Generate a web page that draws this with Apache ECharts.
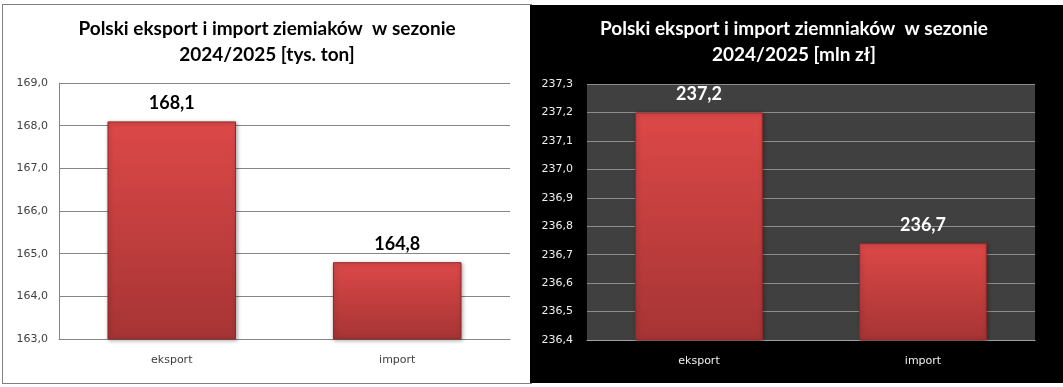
<!DOCTYPE html>
<html>
<head>
<meta charset="utf-8">
<script src="https://cdn.jsdelivr.net/npm/echarts@6/dist/echarts.min.js"></script>
<style>
  html, body { margin: 0; padding: 0; background: #ffffff; width: 1063px; height: 387px; overflow: hidden; }
  #left { position: absolute; left: 2px; top: 4px; width: 530px; height: 380px; box-sizing: border-box; border: 1px solid #808080; background: #ffffff; }
  #right { position: absolute; left: 530px; top: 5px; width: 533px; height: 378px; background: #000000; }
</style>
</head>
<body>
<div id="left"></div>
<div id="right"></div>
<script>
const categories = ['eksport', 'import'];
const volumeValues = [168.1, 164.8];          // tys. ton
const moneyValues = [237.2, 236.74];          // mln zł
const volumeAxis = { min: 163, max: 169, interval: 1 };
const moneyAxis = { min: 236.4, max: 237.3, interval: 0.1 };
const titleVolume = 'Polski eksport i import ziemiaków  w sezonie\n2024/2025 [tys. ton]';
const titleMoney = 'Polski eksport i import ziemniaków  w sezonie\n2024/2025 [mln zł]';

const fmt = v => Number(v).toFixed(1).replace('.', ',');

const barColor = {
  type: 'linear', x: 0, y: 0, x2: 0, y2: 1,
  colorStops: [
    { offset: 0, color: '#dd4848' },
    { offset: 1, color: '#a63434' }
  ]
};

function makeOption(title, values, ax, dark) {
  const textC = dark ? '#ffffff' : '#000000';
  const axisC = dark ? '#f0f0f0' : '#404040';
  return {
    animation: false,
    title: {
      text: title,
      left: 259,
      textAlign: 'center',
      top: 6,
      textStyle: { fontFamily: 'Lato', fontWeight: 'bold', fontSize: 19, lineHeight: 26, color: textC }
    },
    grid: dark
      ? { left: 57, top: 79, width: 448, height: 256, show: true, backgroundColor: '#404040', borderWidth: 0 }
      : { left: 56, top: 78, width: 451, height: 256 },
    xAxis: {
      type: 'category',
      data: categories,
      axisTick: { show: false },
      axisLine: { show: true, lineStyle: { color: dark ? '#a0a0a0' : '#868686', width: 1 } },
      axisLabel: { color: axisC, fontFamily: 'DejaVu Sans', fontSize: 11, margin: 16 }
    },
    yAxis: {
      type: 'value',
      min: ax.min, max: ax.max, interval: ax.interval,
      axisLine: { show: !dark, lineStyle: { color: '#868686' } },
      axisTick: { show: false },
      splitLine: { show: true, lineStyle: { color: dark ? '#8c8c8c' : '#868686', width: 1 } },
      axisLabel: { color: axisC, fontFamily: 'DejaVu Sans', fontSize: 11, margin: dark ? 14 : 11, formatter: fmt }
    },
    series: [{
      type: 'bar',
      data: values,
      barWidth: '57%',
      itemStyle: {
        color: barColor,
        borderColor: '#8e2a2a',
        borderWidth: 1,
        shadowColor: 'rgba(0,0,0,0.35)',
        shadowBlur: 4,
        shadowOffsetX: 1,
        shadowOffsetY: 1
      },
      label: {
        show: true,
        position: 'top',
        distance: 9,
        formatter: p => fmt(p.value),
        fontFamily: 'Lato',
        fontWeight: 'bold',
        fontSize: 18,
        color: textC
      }
    }]
  };
}

const c1 = echarts.init(document.getElementById('left'), null, { renderer: 'canvas' });
c1.setOption(makeOption(titleVolume, volumeValues, volumeAxis, false));
const c2 = echarts.init(document.getElementById('right'), null, { renderer: 'canvas' });
c2.setOption(makeOption(titleMoney, moneyValues, moneyAxis, true));
</script>
</body>
</html>
